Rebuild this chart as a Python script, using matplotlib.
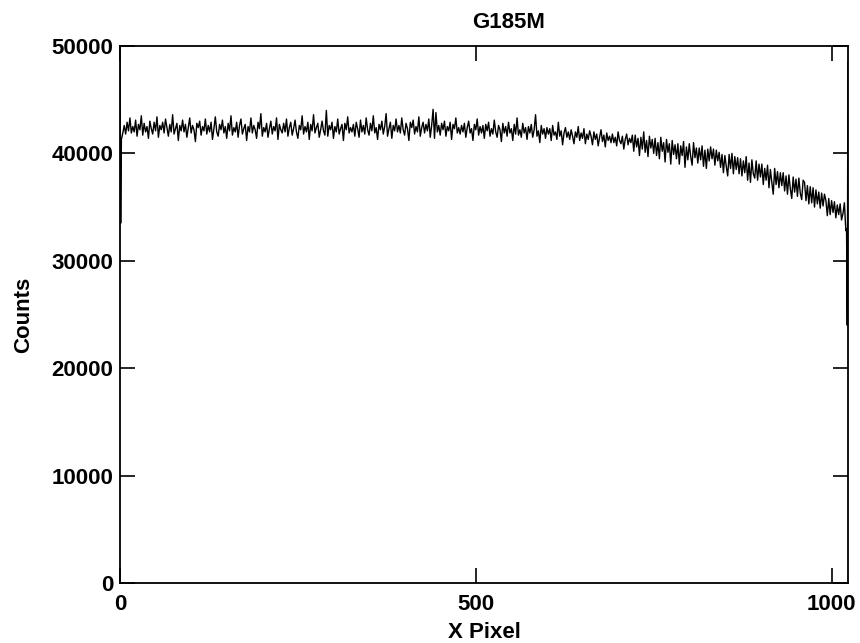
import numpy as np
import matplotlib.pyplot as plt

plt.rcParams['font.family'] = ['Liberation Sans', 'DejaVu Sans']
plt.rcParams['font.weight'] = 'bold'

# detector edge pixels
pix_lo = [0, 1]
counts_lo = [49000, 33500]
pix_hi = [1021, 1022, 1023]
counts_hi = [33000, 24000, 48500]

# main spectrum, every 2nd pixel from 2 to 1020
pix_main = np.arange(2, 1022, 2)
counts_main = [
    41300, 41900, 42600, 41800, 42900, 42100, 43300, 41900, 42500, 42000, 43100, 41600, 42700, 42200, 43500,
    41700, 42800, 42000, 42500, 41400, 43000, 42300, 41800, 42900, 42100, 43400, 41500, 42600, 42200, 42900,
    41900, 43200, 42400, 41600, 42700, 42000, 43600, 41800, 42300, 42800, 41200, 42600, 42100, 43100, 42000,
    42700, 41500, 42400, 43300, 41900, 42600, 42200, 41100, 42800, 42400, 43000, 41700, 42500, 42100, 43200,
    41800, 42600, 42000, 42900, 41300, 42300, 43400, 42000, 41600, 42700, 42200, 43100, 41900, 42500, 41400,
    42800, 42100, 43500, 41700, 42400, 42000, 42900, 41500, 42600, 43200, 41800, 42300, 42700, 41200, 42500,
    42000, 43300, 41900, 42600, 42200, 41400, 42900, 42300, 43700, 41600, 42400, 42000, 42800, 41500, 42300,
    43000, 41800, 42500, 42100, 43300, 41300, 42700, 42200, 41900, 42800, 42000, 43200, 41600, 42400, 42900,
    41700, 42300, 43100, 42000, 41400, 42600, 42200, 43500, 41800, 42500, 42000, 42900, 41300, 42700, 42100,
    43600, 41900, 42400, 42800, 41500, 42200, 43000, 42100, 41700, 44000, 41600, 42600, 42200, 42900, 41400,
    42500, 42000, 43200, 41800, 42300, 42700, 41200, 42800, 42200, 43400, 41900, 42400, 42000, 42700, 41600,
    42900, 42300, 41500, 43100, 42000, 42600, 41800, 43300, 42200, 41700, 42800, 42100, 43500, 41900, 42400,
    41300, 42700, 42200, 43000, 41800, 42500, 43700, 41600, 42300, 42900, 41400, 42600, 42100, 43200, 42000,
    42600, 41900, 43300, 42200, 41700, 42800, 42300, 41200, 42900, 42400, 43100, 41800, 42500, 42000, 43400,
    41600, 42400, 42900, 41900, 42700, 42100, 43200, 41500, 42600, 44100, 41400, 43800, 42000, 42600, 41700,
    42800, 42200, 43000, 41600, 42500, 42100, 42900, 41300, 42700, 42300, 43300, 41900, 42400, 41800, 42600,
    42000, 42800, 41500, 42400, 43000, 41900, 42300, 41200, 42700, 42200, 43200, 41700, 42500, 41900, 42600,
    41400, 42700, 42100, 42900, 41600, 42300, 41800, 43100, 42000, 41500, 42600, 42200, 41100, 42800, 41900,
    42500, 41600, 42900, 41900, 42300, 41200, 42700, 41800, 43300, 41700, 42200, 41500, 42800, 41900, 42400,
    41300, 42500, 41900, 42700, 41500, 42200, 43600, 41600, 42100, 41000, 42600, 41800, 42300, 41400, 42400,
    41800, 42300, 41200, 42600, 41700, 42000, 41300, 42900, 41600, 42100, 40800, 41900, 42400, 41500, 42000,
    41300, 42200, 41600, 40900, 42000, 41500, 42500, 41200, 41900, 41400, 42300, 40900, 41800, 41300, 42100,
    41600, 40800, 42000, 41300, 41800, 40700, 41500, 42200, 41100, 41700, 40600, 41900, 41200, 41600, 41000,
    41800, 41000, 41500, 40700, 42000, 41200, 40900, 41600, 40400, 41300, 41800, 40800, 41400, 41000, 41700,
    40200, 41700, 40600, 41400, 39800, 41500, 40400, 42000, 40100, 41200, 39700, 41600, 40500, 41300, 40000,
    41400, 39800, 41000, 39500, 41500, 40200, 41000, 39200, 41300, 40100, 40900, 39000, 41200, 39900, 40800,
    39500, 40900, 39000, 40700, 39800, 41100, 38700, 40600, 39400, 40900, 39700, 38900, 41000, 39600, 40500,
    39100, 40500, 39400, 40700, 38800, 40300, 38600, 40400, 39300, 40600, 39500, 40400, 38900, 40300, 39300,
    40100, 38700, 39900, 38200, 39800, 38800, 37900, 39900, 38600, 40000, 38100, 39700, 38500, 39600, 38100,
    39500, 37900, 39300, 38200, 39700, 37500, 39100, 37300, 39400, 38100, 37700, 39300, 37500, 39000, 37800,
    39000, 37100, 38600, 37500, 38900, 36800, 38500, 37300, 36200, 38600, 37100, 38300, 36800, 38200, 37000,
    38200, 36500, 37900, 36200, 38000, 36700, 35800, 37800, 36400, 37600, 36000, 37700, 36300, 35700, 37500,
    37300, 35600, 37000, 35300, 36900, 35400, 36800, 35000, 36600, 35300, 36400, 34900, 36300, 35100, 36200,
    35600, 34200, 35800, 34300, 35600, 34500, 35500, 34000, 35200, 34300, 35300, 33800, 34400, 35400, 32800,
]

pix = np.concatenate([pix_lo, pix_main, pix_hi])
counts = np.concatenate([counts_lo, counts_main, counts_hi])

fig = plt.figure(figsize=(8.6, 6.43), dpi=100)
ax = fig.add_axes([0.1395, 0.0933, 0.8465, 0.8352])

ax.plot(pix, counts, color='black', linewidth=1.0)

ax.set_xlim(0, 1023)
ax.set_ylim(0, 50000)
ax.set_xticks([0, 500, 1000])
ax.set_yticks([0, 10000, 20000, 30000, 40000, 50000])
ax.tick_params(direction='in', top=True, right=True, length=11, width=1.2,
               labelsize=16, pad=5)
ax.tick_params(axis='x', pad=8)
for lab in ax.get_xticklabels() + ax.get_yticklabels():
    lab.set_fontweight('bold')
for sp in ax.spines.values():
    sp.set_linewidth(1.3)

ax.set_title('G185M', fontsize=16, fontweight='bold', x=0.534, pad=13)
ax.set_xlabel('X Pixel', fontsize=16, fontweight='bold', labelpad=5)
ax.set_ylabel('Counts', fontsize=16, fontweight='bold', labelpad=12)

fig.savefig('out.png', dpi=100)
